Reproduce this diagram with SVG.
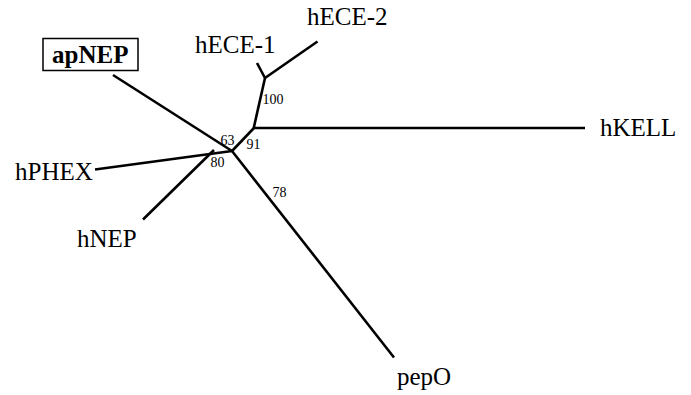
<svg xmlns="http://www.w3.org/2000/svg" width="691" height="395" viewBox="0 0 691 395">
<style>
.lbl{font-family:"Liberation Serif","Times New Roman",serif;font-size:25px;fill:#000}
.num{font-family:"Liberation Serif","Times New Roman",serif;font-size:14px;fill:#000}
.br{stroke:#000;stroke-width:2.6;fill:none;stroke-linecap:butt;stroke-linejoin:miter}
</style>
<rect width="691" height="395" fill="#fff"/>
<g id="connectors">
<line class="br" x1="113" y1="75" x2="232" y2="151"/>
<line class="br" x1="95" y1="169.5" x2="232" y2="151"/>
<line class="br" x1="143" y1="219.5" x2="214" y2="150"/>
<line class="br" x1="232" y1="151" x2="253.5" y2="128.5"/>
<line class="br" x1="232" y1="151" x2="394" y2="357.5"/>
<line class="br" x1="253.5" y1="128" x2="585" y2="128"/>
<line class="br" x1="253.5" y1="129" x2="265" y2="78"/>
<line class="br" x1="265" y1="78" x2="257" y2="63"/>
<line class="br" x1="265" y1="78" x2="317.5" y2="41.5"/>
</g>
<g id="apNEP">
<rect x="43" y="38.5" width="95" height="32" fill="none" stroke="#000" stroke-width="1.5"/>
<text class="lbl" x="52" y="63" font-weight="bold">apNEP</text>
</g>
<g id="hECE-1"><text class="lbl" x="195" y="53">hECE-1</text></g>
<g id="hECE-2"><text class="lbl" x="307" y="25">hECE-2</text></g>
<g id="hKELL"><text class="lbl" x="600" y="136">hKELL</text></g>
<g id="hPHEX"><text class="lbl" x="15" y="180">hPHEX</text></g>
<g id="hNEP"><text class="lbl" x="77" y="246.5">hNEP</text></g>
<g id="pepO"><text class="lbl" x="397" y="385">pepO</text></g>
<g id="bootstrap">
<text class="num" x="262.5" y="104">100</text>
<text class="num" x="220.5" y="145">63</text>
<text class="num" x="246.5" y="149">91</text>
<text class="num" x="210.5" y="166.5">80</text>
<text class="num" x="272.5" y="197">78</text>
</g>
</svg>
